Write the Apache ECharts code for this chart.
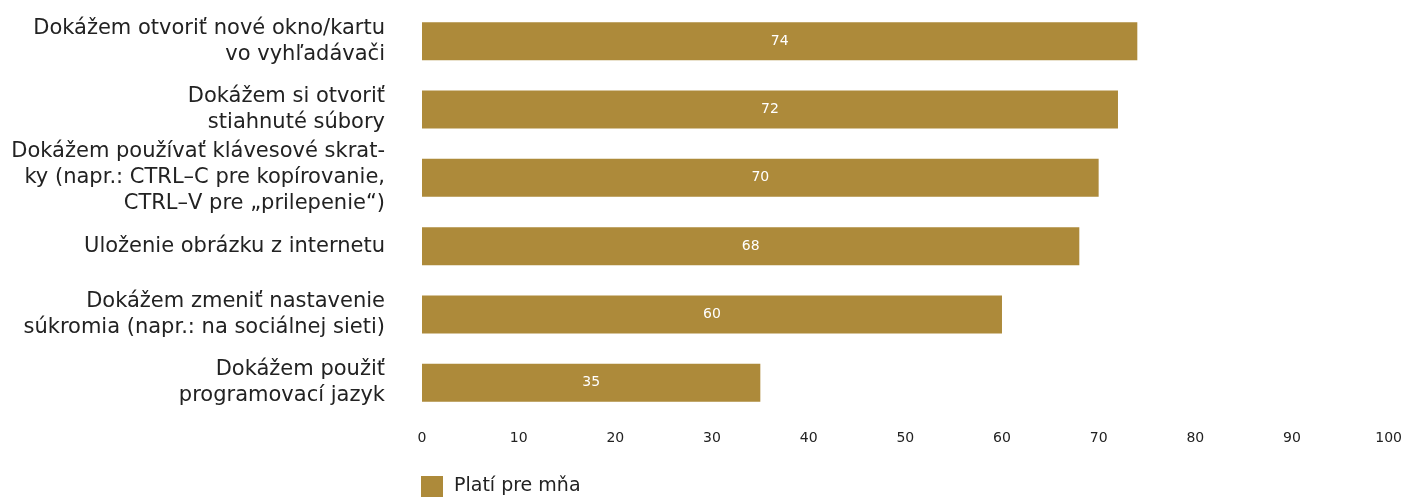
<!DOCTYPE html>
<html>
<head>
<meta charset="utf-8">
<script src="https://cdn.jsdelivr.net/npm/echarts@6/dist/echarts.min.js"></script>
<style>
html,body{margin:0;padding:0;background:#fff;}
#c{width:1405px;height:497px;}
</style>
</head>
<body>
<div id="c"></div>
<script>
const categories = [
  "Dokážem otvoriť nové okno/kartu\nvo vyhľadávači",
  "Dokážem si otvoriť\nstiahnuté súbory",
  "Dokážem používať klávesové skrat-\nky (napr.: CTRL–C pre kopírovanie,\nCTRL–V pre „prilepenie“)",
  "Uloženie obrázku z internetu",
  "Dokážem zmeniť nastavenie\nsúkromia (napr.: na sociálnej sieti)",
  "Dokážem použiť\nprogramovací jazyk"
];
const seriesName = "Platí pre mňa";
const values = [74, 72, 70, 68, 60, 35];
const xTicks = [0, 10, 20, 30, 40, 50, 60, 70, 80, 90, 100];

const FONT = "DejaVu Sans";
const chart = echarts.init(document.getElementById('c'), null, {renderer: 'canvas'});
chart.setOption({
  animation: false,
  textStyle: {fontFamily: FONT},
  grid: {left: 422, right: 15, top: 7, bottom: 80, containLabel: false},
  legend: {
    left: 416, top: 471,
    itemWidth: 22, itemHeight: 21, itemGap: 10,
    icon: 'rect',
    textStyle: {fontFamily: FONT, fontSize: 19, color: '#222', padding: [0, 0, 0, 6]},
    data: [seriesName]
  },
  xAxis: {
    type: 'value', min: xTicks[0], max: xTicks[xTicks.length - 1], interval: 10,
    axisLine: {show: false}, axisTick: {show: false}, splitLine: {show: false},
    axisLabel: {fontFamily: FONT, fontSize: 14, color: '#222', margin: 14}
  },
  yAxis: {
    type: 'category', inverse: true, data: categories,
    axisLine: {show: false}, axisTick: {show: false},
    axisLabel: {fontFamily: FONT, fontSize: 21, color: '#222', margin: 37, lineHeight: 26, align: 'right'}
  },
  series: [{
    name: seriesName, type: 'bar', data: values, barWidth: 38,
    itemStyle: {color: '#AD8A3A'},
    label: {show: true, position: 'inside', color: '#fff', fontFamily: FONT, fontSize: 14}
  }]
});
</script>
</body>
</html>
